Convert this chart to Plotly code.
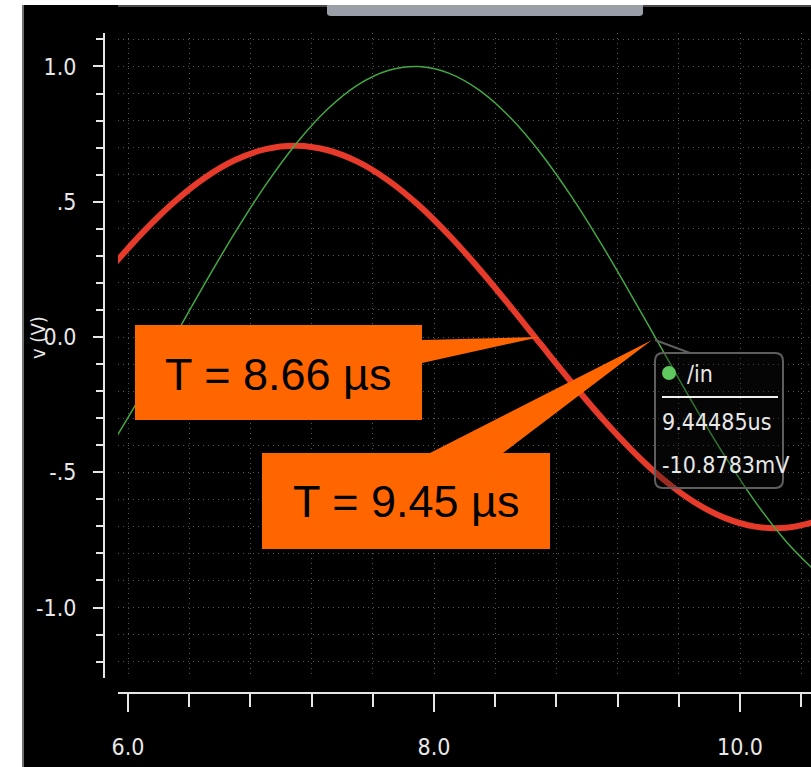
import plotly.graph_objects as go

# ---------------- data ----------------
t_us = [5.9, 6.1, 6.3, 6.5, 6.7, 6.9, 7.1, 7.3, 7.5, 7.7, 7.9, 8.1,
        8.3, 8.5, 8.7, 8.9, 9.1, 9.3, 9.5, 9.7, 9.9, 10.1, 10.3, 10.5]
v_in = [-0.392, -0.2016, -0.003, 0.1957, 0.3866, 0.5622, 0.7153, 0.8399,
        0.9310, 0.9849, 0.9997, 0.9745, 0.9106, 0.8103, 0.6777, 0.5181,
        0.3378, 0.1441, -0.0554, -0.2526, -0.4398, -0.6095, -0.7548, -0.8701]
v_out = [0.2636, 0.3887, 0.4982, 0.5879, 0.6542, 0.6944, 0.7070, 0.6913,
         0.6481, 0.5790, 0.4869, 0.3753, 0.2488, 0.1124, -0.0286, -0.1683,
         -0.3014, -0.4224, -0.5266, -0.6099, -0.6688, -0.7010, -0.7053, -0.6815]

x_major = [6.0, 8.0, 10.0]
x_major_text = ["6.0", "8.0", "10.0"]
x_minor = [6.4, 6.8, 7.2, 7.6, 8.4, 8.8, 9.2, 9.6, 10.4]
y_major = [-1.0, -0.5, 0.0, 0.5, 1.0]
y_major_text = ["-1.0", "-.5", "0.0", ".5", "1.0"]
y_minor = [-1.2, -1.1, -0.9, -0.8, -0.7, -0.6, -0.4, -0.3, -0.2, -0.1,
           0.1, 0.2, 0.3, 0.4, 0.6, 0.7, 0.8, 0.9, 1.1]

x_range = [5.9346, 10.464]
y_range = [-1.2606, 1.1238]

cross_out_t = 8.66
cursor_t = 9.44485
cursor_v = -0.0108783
label_out = "T = 8.66 µs"
label_in = "T = 9.45 µs"
cursor_name = "/in"
cursor_t_text = "9.44485us"
cursor_v_text = "-10.8783mV"
y_title = "v (V)"

# ---------------- layout geometry ----------------
W, H = 811, 767
ML, MR, MT, MB = 104, 0, 33, 74
PW, PH = W - ML - MR, H - MT - MB
GX0, GY1 = 118, 678  # subplot left / bottom pixel

def tx(px):
    return x_range[0] + (px - GX0) / (W - MR - GX0) * (x_range[1] - x_range[0])

def vy(py):
    return y_range[1] - (py - MT) / (GY1 - MT) * (y_range[1] - y_range[0])

def P(px, py):
    return f"{tx(px):.5f},{vy(py):.5f}"

def xp(px):
    return (px - ML) / PW

def yp(py):
    return (H - MB - py) / PH

NARROW = "Liberation Sans Narrow, DejaVu Sans Condensed, Arial Narrow, sans-serif"
AX = "#e6e6e6"
GRID = "#565656"
ORANGE = "#ff6600"

fig = go.Figure()
fig.add_trace(go.Scatter(x=t_us, y=v_out, mode="lines", line=dict(color="#e63a2b", width=6, shape="spline"),
                         showlegend=False, hoverinfo="skip"))
fig.add_trace(go.Scatter(x=t_us, y=v_in, mode="lines", line=dict(color="#43a843", width=1.5, shape="spline"),
                         showlegend=False, hoverinfo="skip"))

shapes = []
# white frame strips + gray tab
shapes.append(dict(type="rect", xref="paper", yref="paper", x0=xp(-5), x1=xp(22), y0=yp(800), y1=yp(-5),
                   fillcolor="white", line_width=0, layer="above"))
shapes.append(dict(type="rect", xref="paper", yref="paper", x0=xp(-5), x1=xp(820), y0=yp(5), y1=yp(-5),
                   fillcolor="white", line_width=0, layer="above"))
shapes.append(dict(type="line", xref="paper", yref="paper", x0=xp(23), x1=xp(23), y0=yp(5), y1=yp(800),
                   line=dict(color="#707070", width=2), layer="above"))
shapes.append(dict(type="line", xref="paper", yref="paper", x0=xp(118), x1=xp(811), y0=yp(6), y1=yp(6),
                   line=dict(color="#4a4a4a", width=2), layer="above"))
tab = (f"M {xp(327)},{yp(5)} L {xp(643)},{yp(5)} L {xp(643)},{yp(13)} Q {xp(643)},{yp(16)} {xp(639)},{yp(16)} "
       f"L {xp(331)},{yp(16)} Q {xp(327)},{yp(16)} {xp(327)},{yp(13)} Z")
shapes.append(dict(type="path", xref="paper", yref="paper", path=tab, fillcolor="#999fa7", line_width=0, layer="above"))

# orange callouts
c1 = (f"M {P(135,325)} L {P(422,325)} L {P(422,340)} L {P(540,337)} L {P(422,363)} "
      f"L {P(422,420)} L {P(135,420)} Z")
shapes.append(dict(type="path", xref="x", yref="y", path=c1, fillcolor=ORANGE, line_width=0, layer="above"))
c2 = (f"M {P(262,453)} L {P(430,453)} L {P(652,340)} L {P(503,453)} L {P(550,453)} "
      f"L {P(550,549)} L {P(262,549)} Z")
shapes.append(dict(type="path", xref="x", yref="y", path=c2, fillcolor=ORANGE, line_width=0, layer="above"))

# cursor tooltip
r = 8
x0, x1, y0, y1 = 655, 783, 353, 488
tip = (f"M {P(x0+r,y0)} L {P(x1-r,y0)} Q {P(x1,y0)} {P(x1,y0+r)} L {P(x1,y1-r)} Q {P(x1,y1)} {P(x1-r,y1)} "
       f"L {P(x0+r,y1)} Q {P(x0,y1)} {P(x0,y1-r)} L {P(x0,y0+r)} Q {P(x0,y0)} {P(x0+r,y0)} Z")
shapes.append(dict(type="path", xref="x", yref="y", path=tip, fillcolor="rgba(15,15,15,0.35)",
                   line=dict(color="#5e5e5e", width=2), layer="above"))
shapes.append(dict(type="line", xref="x", yref="y", x0=cursor_t, y0=cursor_v, x1=tx(690), y1=vy(353),
                   line=dict(color="#5e5e5e", width=2), layer="above"))
shapes.append(dict(type="line", xref="x", yref="y", x0=tx(662), y0=vy(397), x1=tx(778), y1=vy(397),
                   line=dict(color="#f0f0f0", width=2), layer="above"))
shapes.append(dict(type="circle", xref="x", yref="y", x0=tx(662), x1=tx(676), y0=vy(366), y1=vy(380),
                   fillcolor="#5fc85f", line_width=0, layer="above"))

annotations = [
    dict(x=tx(278), y=vy(374), xref="x", yref="y", text=label_out, showarrow=False,
         font=dict(family="Liberation Sans, Arial, sans-serif", size=45, color="black"),
         xanchor="center", yanchor="middle"),
    dict(x=tx(406), y=vy(501), xref="x", yref="y", text=label_in, showarrow=False,
         font=dict(family="Liberation Sans, Arial, sans-serif", size=45, color="black"),
         xanchor="center", yanchor="middle"),
    dict(x=tx(685), y=vy(374), xref="x", yref="y", text=cursor_name, showarrow=False,
         font=dict(family=NARROW, size=23, color="#e8e8e8"), xanchor="left", yanchor="middle"),
    dict(x=tx(660), y=vy(422), xref="x", yref="y", text=cursor_t_text, showarrow=False,
         font=dict(family=NARROW, size=23, color="#e8e8e8"), xanchor="left", yanchor="middle"),
    dict(x=tx(660), y=vy(465), xref="x", yref="y", text=cursor_v_text, showarrow=False,
         font=dict(family=NARROW, size=23, color="#e8e8e8"), xanchor="left", yanchor="middle"),
    dict(x=xp(38), y=yp(338), xref="paper", yref="paper", text=y_title, showarrow=False, textangle=-90,
         font=dict(family=NARROW, size=20, color="#e8e8e8"), xanchor="center", yanchor="middle"),
]

fig.update_layout(
    width=W, height=H, margin=dict(l=ML, r=MR, t=MT, b=MB, pad=0),
    paper_bgcolor="black", plot_bgcolor="black",
    shapes=shapes, annotations=annotations, showlegend=False,
    xaxis=dict(domain=[xp(GX0), 1], anchor="free", position=0, range=x_range,
               showline=True, linecolor=AX, linewidth=2, zeroline=False,
               tickmode="array", tickvals=x_major, ticktext=x_major_text,
               ticks="outside", ticklen=18, tickwidth=2, tickcolor=AX, ticklabelstandoff=15,
               tickfont=dict(family=NARROW, size=23, color="#e8e8e8"),
               showgrid=True, gridcolor=GRID, gridwidth=1, griddash="1px,4px",
               minor=dict(tickmode="array", tickvals=x_minor, ticks="outside", ticklen=13, tickwidth=2,
                          tickcolor=AX, showgrid=True, gridcolor=GRID, gridwidth=1, griddash="1px,4px")),
    yaxis=dict(domain=[yp(GY1), 1], anchor="free", position=0, range=y_range,
               showline=True, linecolor=AX, linewidth=2, zeroline=False,
               tickmode="array", tickvals=y_major, ticktext=y_major_text,
               ticks="outside", ticklen=10, tickwidth=2, tickcolor=AX, ticklabelstandoff=12,
               tickfont=dict(family=NARROW, size=23, color="#e8e8e8"),
               showgrid=True, gridcolor=GRID, gridwidth=1, griddash="1px,4px",
               minor=dict(tickmode="array", tickvals=y_minor, ticks="outside", ticklen=7, tickwidth=2,
                          tickcolor=AX, showgrid=True, gridcolor=GRID, gridwidth=1, griddash="1px,4px")),
)

fig.write_html("out.html")
